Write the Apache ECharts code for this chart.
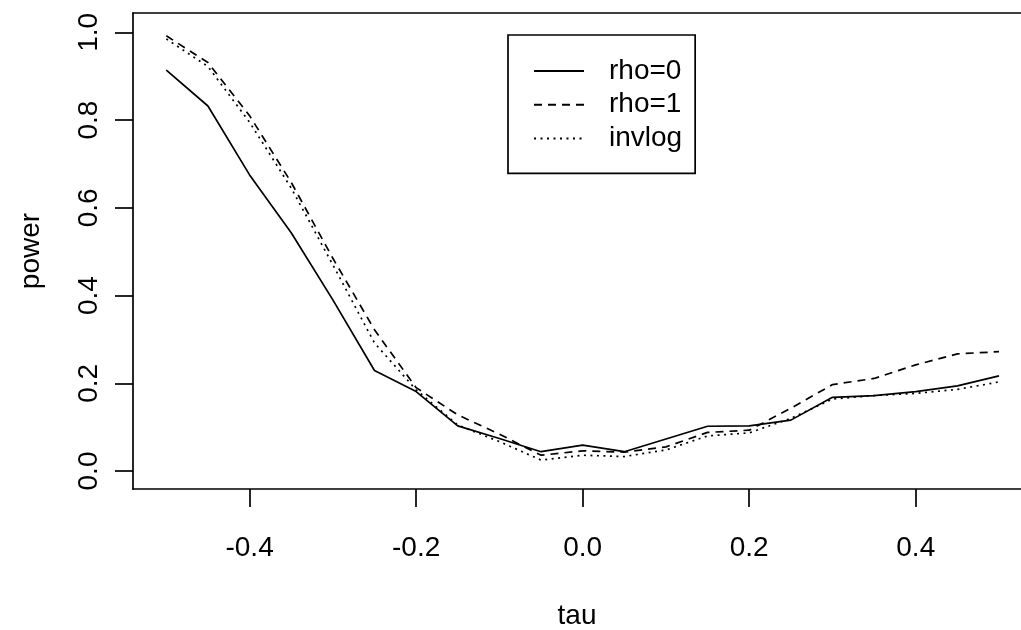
<!DOCTYPE html>
<html>
<head>
<meta charset="utf-8">
<script src="https://cdn.jsdelivr.net/npm/echarts@6/dist/echarts.min.js"></script>
<style>
html,body{margin:0;padding:0;background:#fff;}
#chart{width:1021px;height:630px;}
</style>
</head>
<body>
<div id="chart"></div>
<script>
var tau = [-0.50,-0.45,-0.40,-0.35,-0.30,-0.25,-0.20,-0.15,-0.10,-0.05,0.00,0.05,0.10,0.15,0.20,0.25,0.30,0.35,0.40,0.45,0.50];
var rho0 = [0.914,0.832,0.675,0.543,0.390,0.229,0.181,0.103,0.074,0.044,0.059,0.044,0.073,0.102,0.103,0.116,0.168,0.172,0.181,0.194,0.217];
var rho1 = [0.992,0.931,0.810,0.658,0.485,0.322,0.190,0.128,0.084,0.036,0.046,0.043,0.055,0.088,0.093,0.143,0.197,0.211,0.242,0.267,0.272];
var invlog = [0.985,0.922,0.795,0.645,0.470,0.292,0.185,0.105,0.067,0.025,0.036,0.033,0.048,0.080,0.087,0.120,0.164,0.172,0.177,0.186,0.203];
var seriesNames = ['rho=0','rho=1','invlog'];
var xTicks = [-0.4,-0.2,0.0,0.2,0.4];
var yTicks = [0.0,0.2,0.4,0.6,0.8,1.0];

var FONT = "'Liberation Sans', Arial, sans-serif";
function pairs(xs, ys){ return xs.map(function(x,i){ return [x, ys[i]]; }); }

var chart = echarts.init(document.getElementById('chart'), null, {renderer:'canvas'});
var lineW = 1.7;
var X_MIN = -0.54, X_MAX = 0.5264, Y_MIN = -0.041, Y_MAX = 1.044;
chart.setOption({
  animation: false,
  backgroundColor: '#fff',
  textStyle: {fontFamily: FONT, color: '#000'},
  grid: {left: 133, top: 13, right: 0, bottom: 141, show: false, containLabel: false, outerBoundsMode: 'none'},
  xAxis: [{
    type: 'value', min: X_MIN, max: X_MAX, position: 'bottom',
    splitLine: {show: false},
    axisLine: {show: true, onZero: false, lineStyle: {color: '#000', width: lineW}},
    axisTick: {show: true, length: 18, inside: false, customValues: xTicks, lineStyle: {color: '#000', width: lineW}},
    axisLabel: {show: true, customValues: xTicks, margin: 45, fontSize: 28, fontFamily: FONT, color: '#000',
      formatter: function(v){ return v.toFixed(1); }},
    name: 'tau', nameLocation: 'middle', nameGap: 113,
    nameTextStyle: {fontSize: 28, fontFamily: FONT, color: '#000'}
  }, {
    type: 'value', min: X_MIN, max: X_MAX, position: 'top',
    splitLine: {show: false},
    axisLine: {show: true, onZero: false, lineStyle: {color: '#000', width: lineW}},
    axisTick: {show: false}, axisLabel: {show: false}
  }],
  yAxis: {
    type: 'value', min: Y_MIN, max: Y_MAX,
    splitLine: {show: false},
    axisLine: {show: true, onZero: false, lineStyle: {color: '#000', width: lineW}},
    axisTick: {show: true, length: 18, inside: false, customValues: yTicks, lineStyle: {color: '#000', width: lineW}},
    axisLabel: {show: true, customValues: yTicks, rotate: 90, margin: 30, fontSize: 28, fontFamily: FONT, color: '#000',
      formatter: function(v){ return v.toFixed(1); }},
    name: 'power', nameLocation: 'middle', nameGap: 88, nameRotate: 90,
    nameTextStyle: {fontSize: 28, fontFamily: FONT, color: '#000'}
  },
  legend: {
    show: true, orient: 'vertical', left: 508, top: 35,
    padding: [22, 13, 21, 25], itemWidth: 50, itemHeight: 28, itemGap: 5.7,
    borderColor: '#000', borderWidth: lineW, backgroundColor: '#fff',
    itemStyle: {color: 'rgba(0,0,0,0)', borderColor: 'rgba(0,0,0,0)', borderWidth: 0, opacity: 0},
    textStyle: {fontSize: 28, fontFamily: FONT, color: '#000', padding: [0,0,0,20]},
    data: seriesNames
  },
  series: [
    {name: seriesNames[0], type: 'line', xAxisIndex: 0, data: pairs(tau, rho0), symbol: 'none', showSymbol: false,
     lineStyle: {color: '#000', width: lineW, type: 'solid'}, itemStyle: {color: '#000'}},
    {name: seriesNames[1], type: 'line', xAxisIndex: 0, data: pairs(tau, rho1), symbol: 'none', showSymbol: false,
     lineStyle: {color: '#000', width: lineW, type: [8, 6]}, itemStyle: {color: '#000'}},
    {name: seriesNames[2], type: 'line', xAxisIndex: 0, data: pairs(tau, invlog), symbol: 'none', showSymbol: false,
     lineStyle: {color: '#000', width: lineW, type: [2, 4.5]}, itemStyle: {color: '#000'}}
  ]
});
</script>
</body>
</html>
